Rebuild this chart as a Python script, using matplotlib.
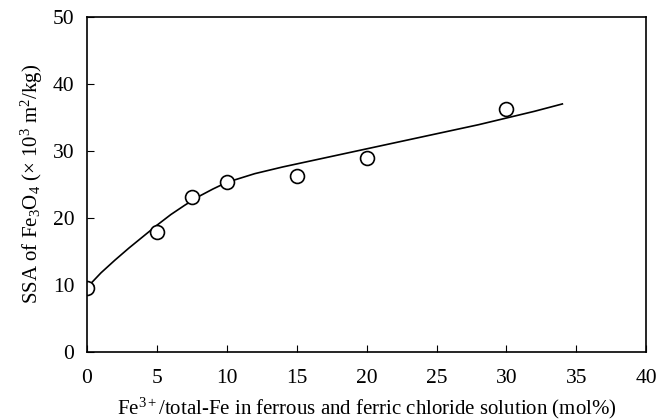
import matplotlib
matplotlib.use("Agg")
import matplotlib.pyplot as plt

plt.rcParams['font.family'] = ['Liberation Serif', 'DejaVu Serif']
plt.rcParams['mathtext.fontset'] = 'custom'
plt.rcParams['mathtext.rm'] = 'Liberation Serif'
plt.rcParams['mathtext.it'] = 'Liberation Serif:italic'

# measured points
fe3_pct = [0, 5, 7.5, 10, 15, 20, 30]
ssa = [9.5, 17.9, 23.1, 25.4, 26.3, 28.9, 36.3]

# fitted curve
curve_x = [0, 1, 2, 3, 4, 5, 6, 7, 8, 9, 10, 12, 14, 16, 18, 20, 22, 24, 26, 28, 30, 32, 34]
curve_y = [9.6, 11.8, 13.7, 15.5, 17.2, 18.9, 20.5, 21.9, 23.2, 24.3, 25.3, 26.6, 27.6,
           28.5, 29.4, 30.3, 31.2, 32.1, 33.0, 33.9, 34.9, 35.9, 37.0]

fig = plt.figure(figsize=(6.69, 4.2), dpi=100)
ax = fig.add_axes([0.130, 0.162, 0.836, 0.798])

ax.plot(curve_x, curve_y, color='black', lw=1.2)
ax.plot(fe3_pct, ssa, 'o', mfc='white', mec='black', mew=1.2, ms=10)

ax.set_xlim(0, 40)
ax.set_ylim(0, 50)
ax.set_xticks(range(0, 41, 5))
ax.set_yticks(range(0, 51, 10))
ax.tick_params(direction='in', labelsize=15.5, length=5, top=False, right=False)
ax.tick_params(axis='x', pad=12)
ax.tick_params(axis='y', pad=9)
for s in ax.spines.values():
    s.set_linewidth(1.2)

ax.set_xlabel(r'Fe$^{3+}$/total-Fe in ferrous and ferric chloride solution (mol%)', fontsize=15, labelpad=6)
ax.set_ylabel(r'SSA of Fe$_3$O$_4$ ($\times$ 10$^3$ m$^2$/kg)', fontsize=15, labelpad=6)

fig.savefig('out.png', dpi=100)
